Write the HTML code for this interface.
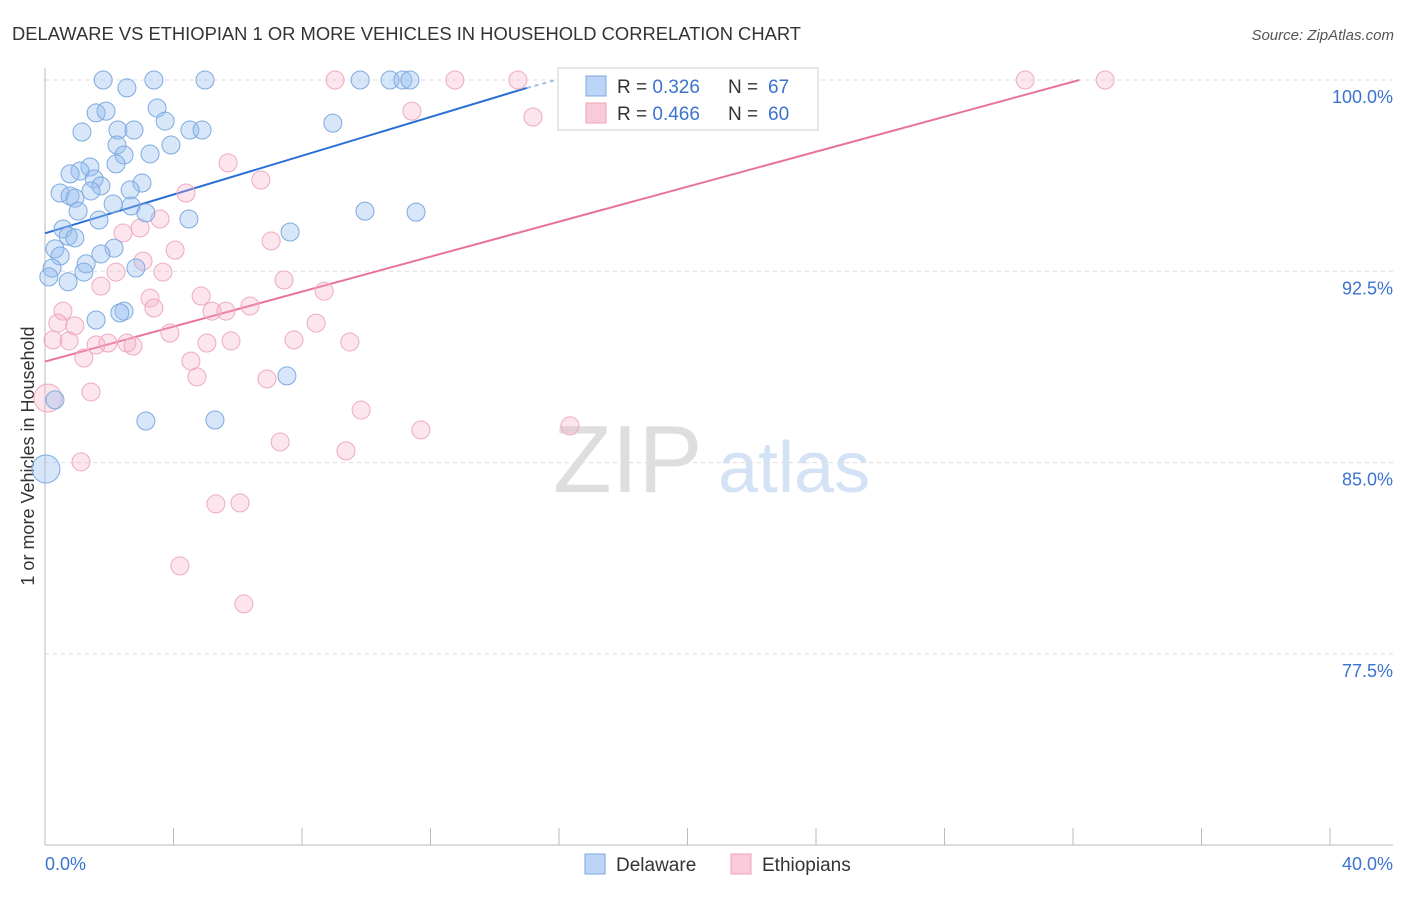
<!DOCTYPE html>
<html><head><meta charset="utf-8">
<style>
body{margin:0;background:#fff;font-family:"Liberation Sans",sans-serif;}
svg text{font-family:"Liberation Sans",sans-serif;}
</style></head><body>
<svg id="chart" width="1406" height="892" xmlns="http://www.w3.org/2000/svg">
<text x="12" y="40" font-size="18" textLength="789" lengthAdjust="spacingAndGlyphs" fill="#333">DELAWARE VS ETHIOPIAN 1 OR MORE VEHICLES IN HOUSEHOLD CORRELATION CHART</text>
<text x="1394" y="40" font-size="15" fill="#555" font-style="italic" text-anchor="end">Source: ZipAtlas.com</text>
<text transform="translate(34,456) rotate(-90)" font-size="18" fill="#333" text-anchor="middle">1 or more Vehicles in Household</text>
<g>
<text x="553" y="492" font-size="96" font-family="Liberation Serif" fill="#dedede">ZIP</text>
<text x="718" y="492" font-size="72" fill="#d3e2f4">atlas</text>
</g>
<g id="grid"></g><g id="axes"></g><g id="trends"></g><g id="points"></g>
<g>
<rect x="558" y="68" width="260" height="62" fill="#fff" stroke="#ccc"/>
<rect x="586" y="76" width="20" height="20" fill="#bcd4f5" stroke="#7aa7e0"/>
<rect x="586" y="103" width="20" height="20" fill="#f9cbd9" stroke="#eea3bb"/>
<text x="617" y="93" font-size="19" fill="#333">R = <tspan fill="#3b73d0">0.326</tspan><tspan x="728">N = </tspan><tspan fill="#3b73d0" x="768">67</tspan></text>
<text x="617" y="120" font-size="19" fill="#333">R = <tspan fill="#3b73d0">0.466</tspan><tspan x="728">N = </tspan><tspan fill="#3b73d0" x="768">60</tspan></text>
</g>
<g>
<rect x="585" y="854" width="20" height="20" fill="#bcd4f5" stroke="#7aa7e0"/>
<text x="616" y="871" font-size="19" fill="#333">Delaware</text>
<rect x="731" y="854" width="20" height="20" fill="#f9cbd9" stroke="#eea3bb"/>
<text x="762" y="871" font-size="19" fill="#333">Ethiopians</text>
</g>
</svg>
<script>
const yTicks=[100,92.5,85,77.5];
const yTickLabels=["100.0%","92.5%","85.0%","77.5%"];
const xTickLabels=["0.0%","40.0%"];
const blueX=[1.81,3.39,4.98,9.81,10.74,11.14,11.36,2.55,3.49,1.59,1.90,3.74,8.96,1.15,2.27,2.77,4.51,4.89,3.92,2.24,3.27,2.46,2.21,1.40,1.09,0.78,1.53,1.74,3.02,2.65,1.43,0.47,0.78,0.93,2.12,2.68,3.14,1.03,4.48,1.68,9.96,11.55,0.56,0.72,0.93,7.63,0.31,2.15,1.74,0.47,1.28,0.22,2.83,1.21,0.12,0.72,2.46,2.33,1.59,7.53,0.31,3.14,5.29,0.03];
const blueY=[100,100,100,100,100,100,100,99.69,98.90,98.71,98.78,98.39,98.31,97.96,98.04,98.04,98.04,98.04,97.45,97.45,97.10,97.06,96.71,96.59,96.43,96.32,96.12,95.85,95.96,95.69,95.65,95.57,95.45,95.37,95.14,95.06,94.79,94.86,94.55,94.51,94.86,94.82,94.16,93.88,93.81,94.04,93.38,93.41,93.18,93.10,92.79,92.63,92.63,92.47,92.28,92.09,90.94,90.87,90.59,88.40,87.46,86.63,86.67,84.75];
const pinkX=[9.03,12.76,14.72,20.70,30.51,33.00,11.42,15.19,5.70,6.72,4.39,3.58,2.43,2.96,7.04,4.05,3.05,2.21,3.67,1.74,7.44,8.69,3.27,4.86,0.56,3.39,6.38,5.20,5.63,0.40,0.93,8.44,3.89,0.25,0.75,1.59,1.96,2.55,2.74,5.04,5.79,7.75,9.49,1.21,4.54,4.73,6.91,1.43,0.09,9.84,11.70,16.34,7.32,9.37,1.12,5.32,6.07,4.20,6.19];
const pinkY=[100,100,100,100,100,100,98.78,98.55,96.75,96.08,95.57,94.55,94.00,94.20,93.69,93.33,92.90,92.47,92.47,91.92,92.16,91.72,91.45,91.53,90.94,91.06,91.14,90.94,90.94,90.47,90.36,90.47,90.08,89.81,89.77,89.61,89.69,89.69,89.57,89.69,89.77,89.81,89.73,89.10,88.98,88.36,88.28,87.77,87.53,87.06,86.28,86.44,85.81,85.46,85.03,83.38,83.42,80.95,79.46];
const blueTrend=[[0,93.99],[15.0,99.69]];
const blueTrendDash=[[15.0,99.69],[16.2,100.1]];
const pinkTrend=[[0,88.96],[32.2,100]];
const NS="http://www.w3.org/2000/svg";
const X=v=>45+v/40*1285;
const Y=v=>80+(100-v)/7.5*191.3;
function mk(tag,attrs,parent){const e=document.createElementNS(NS,tag);for(const k in attrs)e.setAttribute(k,attrs[k]);document.getElementById(parent).appendChild(e);return e;}
yTicks.forEach((t,i)=>{
 const g=mk('line',{x1:45,x2:1393,y1:Y(t),y2:Y(t),stroke:'#ddd','stroke-dasharray':'4,4'},'grid');
 
 
 const l=mk('text',{x:1393,y:Y(t)+23,'font-size':18,fill:'#3b73d0','text-anchor':'end'},'grid');
 l.textContent=yTickLabels[i];
 
 
});
const ya=mk('line',{x1:45,x2:45,y1:68,y2:845,stroke:'#bbb'},'axes');


const xa=mk('line',{x1:45,x2:1393,y1:845,y2:845,stroke:'#bbb'},'axes');


for(let i=0;i<=10;i++){const t=mk('line',{x1:X(i*4),x2:X(i*4),y1:828,y2:845,stroke:'#bbb'},'axes');
 
 }
[[0,'start',45],[40,'end',1393]].forEach((d,i)=>{const t=mk('text',{x:d[2],y:870,'font-size':18,fill:'#3b73d0','text-anchor':d[1]},'axes');t.textContent=xTickLabels[i];
 
 });
function pts(xs,ys,fill,stroke,name){xs.forEach((x,i)=>{const big=(x<0.1);const c=mk('circle',{cx:X(x),cy:Y(ys[i]),r:big?14:9,fill:fill,stroke:stroke,'stroke-width':1},'points');
 
 });}
pts(pinkX,pinkY,'rgba(245,170,195,0.3)','#eeaac0','ethiopians-point');
pts(blueX,blueY,'rgba(150,190,240,0.38)','#7eaae0','delaware-point');
function tl(p,color,name,dash){const l=mk('line',{x1:X(p[0][0]),y1:Y(p[0][1]),x2:X(p[1][0]),y2:Y(p[1][1]),stroke:color,'stroke-width':2},'trends');if(dash)l.setAttribute('stroke-dasharray','4,4');
 
 }
tl(blueTrend,'#2a6fd6','delaware-trendline');
tl(blueTrendDash,'#9cbbe8','delaware-trendline-extension',true);
tl(pinkTrend,'#e8739b','ethiopians-trendline');
</script>
</body></html>
